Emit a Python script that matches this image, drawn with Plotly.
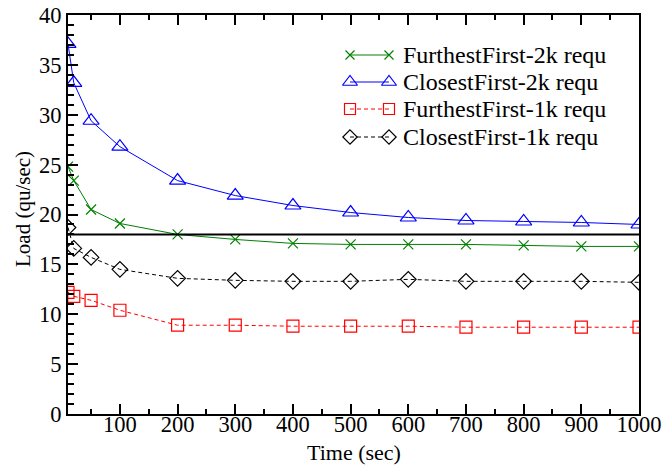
import plotly.graph_objects as go

time_sec = [10, 20, 50, 100, 200, 300, 400, 500, 600, 700, 800, 900, 1000]
furthest_2k = [24.8, 23.4, 20.5, 19.1, 18.0, 17.5, 17.1, 17.0, 17.0, 17.0, 16.9, 16.8, 16.8]
closest_2k = [37.1, 33.2, 29.4, 26.8, 23.4, 21.9, 20.9, 20.2, 19.7, 19.4, 19.3, 19.2, 19.0]
furthest_1k = [12.2, 11.8, 11.4, 10.4, 8.9, 8.9, 8.8, 8.8, 8.8, 8.7, 8.7, 8.7, 8.7]
closest_1k = [18.7, 16.6, 15.7, 14.5, 13.6, 13.4, 13.3, 13.3, 13.5, 13.3, 13.3, 13.3, 13.2]
threshold = 18.0

names = ["FurthestFirst-2k requ", "ClosestFirst-2k requ",
         "FurthestFirst-1k requ", "ClosestFirst-1k requ"]
x_title = "Time (sec)"
y_title = "Load (qu/sec)"

FONT = "Liberation Serif"
W, H = 664, 466
ML, MR, MT, MB = 68, 25, 15, 52
PW, PH = W - ML - MR, H - MT - MB


def px_x(p):
    return (p - ML) / PW


def px_y(p):
    return (H - MB - p) / PH


styles = [
    dict(color="#008000", dash="solid", symbol="x-thin-open", size=10),
    dict(color="#0000ff", dash="solid", symbol="triangle-up-open", size=14),
    dict(color="#ff0000", dash="4px,3px", symbol="square-open", size=12),
    dict(color="#000000", dash="4px,3px", symbol="diamond-open", size=12),
]
series = [furthest_2k, closest_2k, furthest_1k, closest_1k]

fig = go.Figure()
for name, ys, st in zip(names, series, styles):
    fig.add_trace(go.Scatter(
        x=time_sec, y=ys, name=name, mode="lines+markers", showlegend=False,
        line=dict(color=st["color"], width=1, dash=st["dash"]),
        marker=dict(symbol=st["symbol"], size=st["size"], color=st["color"],
                    line=dict(color=st["color"], width=1.2))))

fig.add_shape(type="line", xref="paper", x0=0, x1=1, yref="y", y0=threshold, y1=threshold,
              line=dict(color="black", width=2))

# custom legend (samples with markers at both ends, like the original)
leg_rows = [55, 82, 109, 137]
leg_x0, leg_x1, leg_tx = 350, 389, 401
for name, st, ry in zip(names, styles, leg_rows):
    fig.add_trace(go.Scatter(
        x=[px_x(leg_x0), px_x(leg_x1)], y=[px_y(ry), px_y(ry)],
        xaxis="x2", yaxis="y2", mode="lines+markers", showlegend=False, hoverinfo="skip",
        line=dict(color=st["color"], width=1, dash=st["dash"]),
        marker=dict(symbol=st["symbol"], size=st["size"] - 1, color=st["color"],
                    line=dict(color=st["color"], width=1.2))))
    fig.add_annotation(x=px_x(leg_tx), y=px_y(ry), xref="paper", yref="paper",
                       text=name, showarrow=False, xanchor="left", yanchor="middle",
                       font=dict(family=FONT, size=24, color="black"))

# axis titles
fig.add_annotation(x=px_x(354), y=px_y(452), xref="paper", yref="paper", text=x_title,
                   showarrow=False, xanchor="center", yanchor="middle", borderpad=0,
                   font=dict(family=FONT, size=22, color="black"))
fig.add_annotation(x=px_x(23), y=px_y(209), xref="paper", yref="paper", text=y_title,
                   showarrow=False, xanchor="center", yanchor="middle", textangle=-90,
                   font=dict(family=FONT, size=21, color="black"))

fig.update_layout(
    width=W, height=H,
    margin=dict(l=ML, r=MR, t=MT, b=MB),
    paper_bgcolor="white", plot_bgcolor="white",
    font=dict(family=FONT, size=22, color="black"),
    showlegend=False,
    xaxis=dict(range=[10, 1000], tickmode="linear", tick0=0, dtick=100,
               ticks="inside", ticklen=10, tickwidth=1.5, tickcolor="black",
               showline=True, linecolor="black", linewidth=2, mirror="allticks",
               showgrid=False, zeroline=False, automargin=False, ticklabelstandoff=-11,
               minor=dict(ticks="inside", ticklen=5, dtick=50, tick0=0, tickcolor="black", tickwidth=1.5),
               tickfont=dict(family=FONT, size=22.5)),
    yaxis=dict(range=[0, 40], tickmode="linear", tick0=0, dtick=5,
               ticks="inside", ticklen=10, tickwidth=1.5, tickcolor="black",
               showline=True, linecolor="black", linewidth=2, mirror=True,
               showgrid=False, zeroline=False, automargin=False,
               minor=dict(ticks="inside", ticklen=6, dtick=1, tick0=0, tickcolor="black", tickwidth=1.5),
               tickfont=dict(family=FONT, size=22.5)),
    xaxis2=dict(overlaying="x", range=[0, 1], visible=False, fixedrange=True),
    yaxis2=dict(overlaying="y", range=[0, 1], visible=False, fixedrange=True),
)

fig.write_html("out.html")
